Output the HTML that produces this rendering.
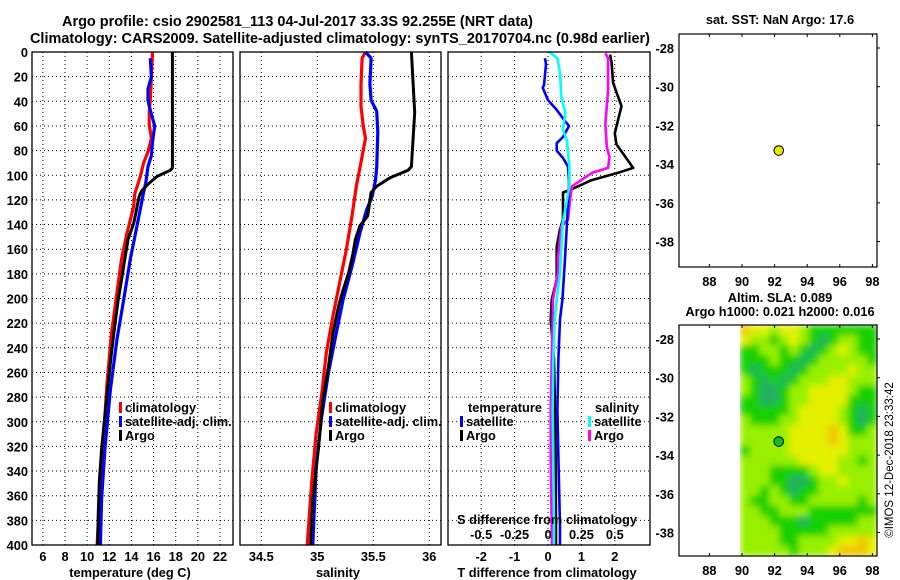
<!DOCTYPE html>
<html><head><meta charset="utf-8">
<style>
html,body{margin:0;padding:0;background:#fff;}
svg{display:block;font-family:"Liberation Sans",Arial,sans-serif;}
.t{font-size:14.5px;font-weight:bold;fill:#000;}
.tk{font-size:12.8px;font-weight:bold;fill:#000;}
</style></head>
<body>
<svg id="c" width="900" height="580" viewBox="0 0 900 580" xmlns="http://www.w3.org/2000/svg">
<defs>
<filter id="bl" x="0" y="0" width="1" height="1"><feGaussianBlur stdDeviation="3.5" edgeMode="duplicate"/></filter>
<clipPath id="mc"><rect x="740" y="325" width="137" height="231"/></clipPath>
</defs>
<text class="t" x="62" y="26" textLength="471" lengthAdjust="spacingAndGlyphs">Argo profile: csio 2902581_113 04-Jul-2017 33.3S 92.255E (NRT data)</text>
<text class="t" x="30" y="43" textLength="620" lengthAdjust="spacingAndGlyphs">Climatology: CARS2009. Satellite-adjusted climatology: synTS_20170704.nc (0.98d earlier)</text>
<text class="tk" x="780" y="24" text-anchor="middle">sat. SST: NaN Argo: 17.6</text>
<text class="tk" x="780" y="302" text-anchor="middle">Altim. SLA: 0.089</text>
<text class="tk" x="780" y="316" text-anchor="middle">Argo h1000: 0.021 h2000: 0.016</text>
<text x="893" y="460" font-size="11.5" text-anchor="middle" transform="rotate(-90 893 460)">©IMOS 12-Dec-2018 23:33:42</text>
<g id="g"></g>
</svg>
<script>
// ---- data ----
const depthTicks=[0,20,40,60,80,100,120,140,160,180,200,220,240,260,280,300,320,340,360,380,400];
const tTicks=[6,8,10,12,14,16,18,20,22];
const sTicks=[34.5,35,35.5,36];
const dTicks=[-2,-1,0,1,2];
const dsTickLabels=["-0.5","-0.25","0","0.25","0.5"];
// temperature
const tArgoD=[0,94,96,101,108,113,117,139,152,168,185,201,222,244,268,295,322,349,376,400];
const tArgoV=[17.7,17.7,17.5,16.3,15.4,14.9,14.7,14.2,13.7,13.4,13.1,12.8,12.5,12.2,11.9,11.6,11.3,11.1,11.0,10.95];
const tClimD=[0,20,39,49,59,70,81,90,101,115,125,147,168,195,228,268,309,349,400];
const tClimV=[15.9,15.8,15.7,15.6,15.6,15.8,15.5,15.1,14.8,14.3,14.2,13.6,13.1,12.7,12.2,11.8,11.5,11.2,10.9];
const tSatD=[5,20,30,39,44,60,73,84,93,106,114,141,168,201,233,274,322,363,400];
const tSatV=[15.7,15.8,15.5,15.5,15.6,16.1,15.9,15.8,15.5,15.3,15.1,14.5,13.9,13.3,12.7,12.1,11.6,11.3,11.2];
// salinity
const sArgoD=[0,49,93,96,102,109,114,133,141,152,163,179,193,206,228,255,282,322,363,400];
const sArgoV=[35.84,35.87,35.84,35.81,35.65,35.53,35.48,35.45,35.38,35.34,35.32,35.28,35.23,35.19,35.14,35.10,35.05,35.01,34.96,34.94];
const sClimD=[0,5,26,44,60,70,80,94,108,133,160,187,214,244,277,309,349,400];
const sClimV=[35.43,35.40,35.39,35.39,35.41,35.43,35.41,35.38,35.35,35.31,35.26,35.20,35.14,35.08,35.04,34.99,34.95,34.91];
const sSatD=[0,5,26,39,48,65,94,104,117,128,147,174,201,228,260,295,336,400];
const sSatV=[35.43,35.48,35.47,35.48,35.53,35.54,35.53,35.52,35.49,35.44,35.38,35.31,35.23,35.17,35.10,35.04,34.99,34.96];
// differences
const dTArgoD=[2,8,25,44,55,66,75,94,98,104,112,114,136,144,158,185,201,217,249,290,330,385,400];
const dTArgoV=[1.86,1.9,1.95,2.2,2.1,2.0,2.05,2.55,2.1,1.3,0.66,0.45,0.45,0.36,0.26,0.26,0.11,0.08,0.18,0.21,0.23,0.24,0.24];
const dTSatD=[5,10,27,29,39,47,56,60,69,74,80,86,93,104,109,168,201,217,249,290,330,385,400];
const dTSatV=[-0.09,-0.06,-0.12,-0.16,0.0,0.26,0.51,0.63,0.45,0.26,0.26,0.45,0.6,0.63,0.63,0.51,0.43,0.36,0.31,0.28,0.31,0.36,0.36];
const dSSatD=[0,5,17,36,50,63,71,93,109,139,179,201,217,249,290,330,385,400];
const dSSatV=[0.01,0.07,0.09,0.10,0.13,0.11,0.14,0.16,0.16,0.11,0.09,0.065,0.05,0.04,0.035,0.04,0.045,0.045];
const dSArgoD=[1,5,31,58,77,85,94,98,109,120,136,141,152,166,179,201,217,249,290,330,385,400];
const dSArgoV=[0.43,0.45,0.45,0.43,0.44,0.46,0.45,0.33,0.18,0.165,0.15,0.10,0.09,0.075,0.075,0.037,0.035,0.028,0.02,0.02,0.028,0.03];
// map
const lonTicks=[88,90,92,94,96,98];
const latTicks=[-28,-30,-32,-34,-36,-38];
const argoLon=92.255, argoLat=-33.3;
const slaGrid=[
"43323321111111","32212321012211","11221210123211","11121101222221","10111012222322",
"21010122233222","21001223333211","11001223333111","11111233332101","21112233332101",
"22222333343112","22222333343222","12222333333222","22222233332212","22211112332222",
"22211001223222","22121011222222","21122112222212","22112221111111","22211101111122",
"22221111122222","22221122223343","22222122234443"];
const slaColors=["#22b060","#14d000","#98f000","#e4f000","#f0c400"];

// ---- helpers ----
const NS="http://www.w3.org/2000/svg";
const G=document.getElementById('g');
function mk(tag,attrs,parent){const e=document.createElementNS(NS,tag);for(const k in attrs)e.setAttribute(k,attrs[k]);(parent||G).appendChild(e);return e;}
const Y0=52,Y1=545;
const yD=d=>Y0+d*(Y1-Y0)/400;
const xT=t=>109.3+(t-12)*11.07;
const xS=s=>317.3+(s-35)*112;
const xDT=v=>548+v*33.4;
const xDS=v=>548+v*133.6;
const panels=[{x0:32,x1:233,n:'temperature'},{x0:240,x1:441,n:'salinity'},{x0:448,x1:650,n:'difference'}];

panels.forEach((p,i)=>{
  depthTicks.forEach(d=>{
    if(d===0||d===400)return;
    const l=mk('line',{x1:p.x0,x2:p.x1,y1:yD(d),y2:yD(d),stroke:'#000','stroke-width':1,'stroke-dasharray':'1,3'});
    
    
  });
  const xs=i===0?tTicks.map(xT):i===1?sTicks.map(xS):dTicks.map(xDT);
  xs.forEach(x=>{
    const l=mk('line',{x1:x,x2:x,y1:Y0,y2:Y1,stroke:'#000','stroke-width':1,'stroke-dasharray':'1,3'});
    
    
  });
});
depthTicks.forEach(d=>{
  const t=mk('text',{x:28,y:yD(d)+5,'text-anchor':'end',class:'tk'});t.textContent=d;
  
  
});
tTicks.forEach(v=>{const t=mk('text',{x:xT(v),y:561,'text-anchor':'middle',class:'tk'});t.textContent=v;
  
  });
sTicks.forEach(v=>{const t=mk('text',{x:xS(v),y:561,'text-anchor':'middle',class:'tk'});t.textContent=v;
  
  });
dTicks.forEach(v=>{const t=mk('text',{x:xDT(v),y:561,'text-anchor':'middle',class:'tk'});t.textContent=v;
  
  });

function series(D,V,fx,color,w,name){
  const pts=D.map((d,i)=>fx(V[i]).toFixed(1)+','+yD(d).toFixed(1)).join(' ');
  const pl=mk('polyline',{points:pts,fill:'none',stroke:color,'stroke-width':w,'stroke-linejoin':'round'});
  
  
}
series(tClimD,tClimV,xT,'#ff0000',3.2,'temperature-climatology-line');
series(tSatD,tSatV,xT,'#0000ff',3.2,'temperature-satellite-line');
series(tArgoD,tArgoV,xT,'#000',3,'temperature-argo-line');
series(sClimD,sClimV,xS,'#ff0000',3.2,'salinity-climatology-line');
series(sSatD,sSatV,xS,'#0000ff',3.2,'salinity-satellite-line');
series(sArgoD,sArgoV,xS,'#000',3,'salinity-argo-line');
series(dTArgoD,dTArgoV,xDT,'#000',2.6,'t-diff-argo-line');
series(dSArgoD,dSArgoV,xDS,'#ff00ff',2.6,'s-diff-argo-line');
series(dTSatD,dTSatV,xDT,'#0000ff',2.6,'t-diff-satellite-line');
series(dSSatD,dSSatV,xDS,'#00ffff',2.6,'s-diff-satellite-line');

panels.forEach(p=>{
  const r=mk('rect',{x:p.x0,y:Y0,width:p.x1-p.x0,height:Y1-Y0,fill:'none',stroke:'#000','stroke-width':1.3});
  
  
});

function legend(x,y,color,label,name){
  const r=mk('rect',{x:x,y:y-6,width:3,height:11,fill:color});
  
  
  const t=mk('text',{x:x+6,y:y+4,class:'tk'});t.textContent=label;
  
  
}
legend(119,408,'#ff0000','climatology','legend-climatology');
legend(119,422,'#0000ff','satellite-adj. clim.','legend-satellite-adj');
legend(119,436,'#000','Argo','legend-argo');
legend(329,408,'#ff0000','climatology','legend-climatology-2');
legend(329,422,'#0000ff','satellite-adj. clim.','legend-satellite-adj-2');
legend(329,436,'#000','Argo','legend-argo-2');
legend(460,422,'#0000ff','satellite','legend-t-satellite');
legend(460,436,'#000','Argo','legend-t-argo');
legend(588,422,'#00ffff','satellite','legend-s-satellite');
legend(588,436,'#ff00ff','Argo','legend-s-argo');
function txt(x,y,s,name,anchor,cls){const t=mk('text',{x:x,y:y,class:cls||'tk','text-anchor':anchor||'start'});t.textContent=s;
  
  return t;}
txt(468,412,'temperature','legend-temperature-heading');
txt(595,412,'salinity','legend-salinity-heading');
txt(547,524,'S difference from climatology','s-diff-axis-title','middle');
dsTickLabels.forEach((s,i)=>txt(xDT(dTicks[i]),539,s,'s-diff-tick-label','middle'));
txt(130,577,'temperature (deg C)','temperature-axis-title','middle');
txt(338,577,'salinity','salinity-axis-title','middle');
txt(547,577,'T difference from climatology','t-diff-axis-title','middle');

const xLon=l=>742+(l-90)*16.3;
function mapFrame(top,bottom,name){
  const latY=l=>top+14+(-28-l)*19.35;
  lonTicks.forEach(l=>{
    const t=mk('text',{x:xLon(l),y:bottom+19,'text-anchor':'middle',class:'tk'});t.textContent=l;
    
    
    mk('line',{x1:xLon(l),x2:xLon(l),y1:top,y2:top+3,stroke:'#000'});
    mk('line',{x1:xLon(l),x2:xLon(l),y1:bottom,y2:bottom-3,stroke:'#000'});
  });
  latTicks.forEach(l=>{
    const t=mk('text',{x:674,y:latY(l)+5,'text-anchor':'end',class:'tk'});t.textContent=l;
    
    
    mk('line',{x1:877,x2:880,y1:latY(l),y2:latY(l),stroke:'#000'});
  });
  return latY;
}
const mTop=325,mBot=556,cx0=740,cx1=877;
const cw=(cx1-cx0)/14,ch=(mBot-mTop)/slaGrid.length;
const clipG=mk('g',{'clip-path':'url(#mc)'});


const hm=mk('g',{filter:'url(#bl)'},clipG);
slaGrid.forEach((row,r)=>{
  row.split('').forEach((v,c)=>{
    const rc=mk('rect',{x:(cx0+c*cw).toFixed(2),y:(mTop+r*ch).toFixed(2),width:(cw+0.6).toFixed(2),height:(ch+0.6).toFixed(2),fill:slaColors[+v]},hm);
    
    
  });
});
const latTop=mapFrame(34,267,'sst-map');
const latBot=mapFrame(mTop,mBot,'sla-map');
let f=mk('rect',{x:679,y:34,width:198,height:233,fill:'none',stroke:'#000','stroke-width':1.2});


f=mk('rect',{x:679,y:mTop,width:198,height:mBot-mTop,fill:'none',stroke:'#000','stroke-width':1.2});


let dot=mk('circle',{cx:xLon(argoLon),cy:latTop(argoLat),r:4.8,fill:'#e8e800',stroke:'#000','stroke-width':1});


dot=mk('circle',{cx:xLon(argoLon),cy:latBot(argoLat),r:4.8,fill:'#10c010',stroke:'#000','stroke-width':1});


</script>
</body></html>
